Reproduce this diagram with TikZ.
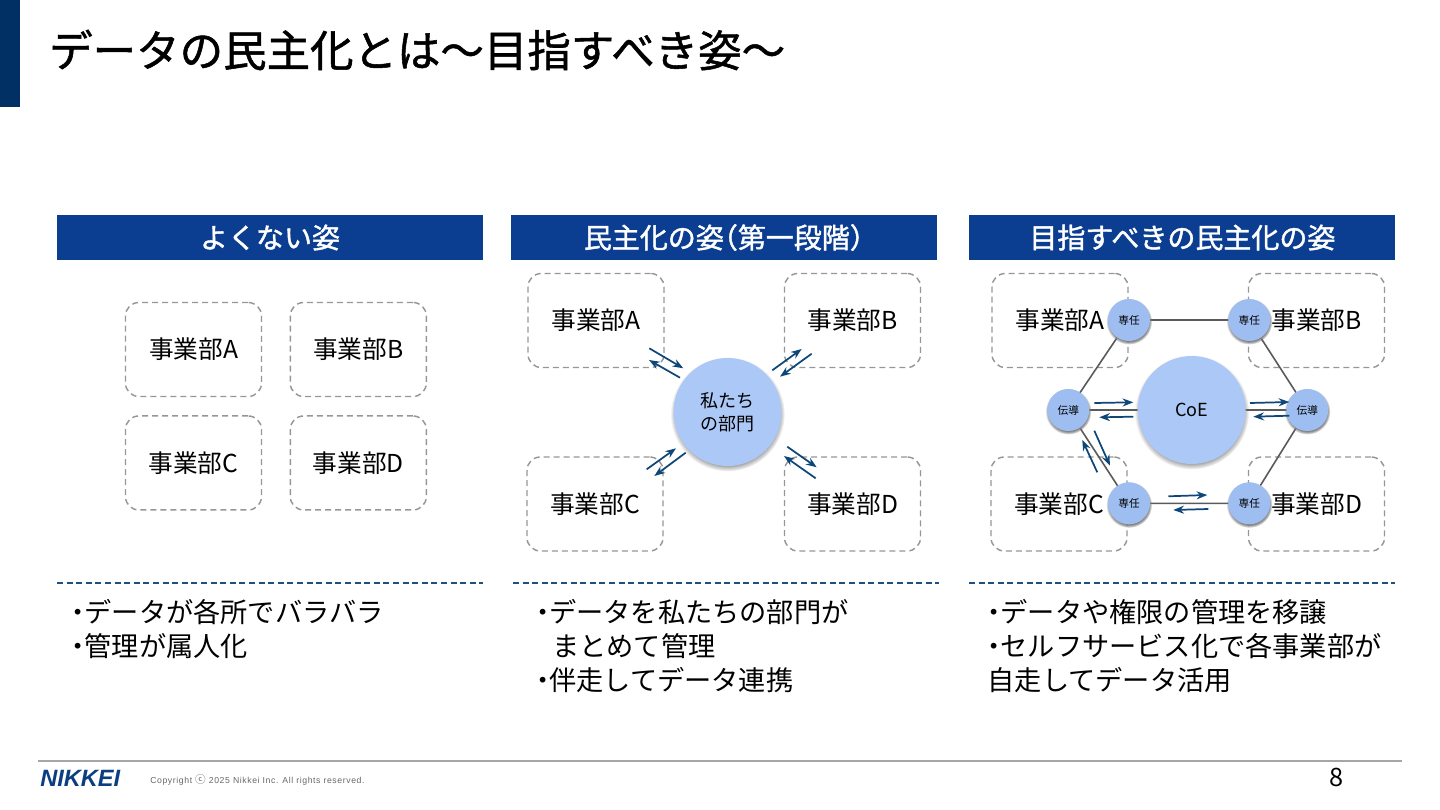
\documentclass[tikz,border=0pt]{standalone}
\usepackage{fontspec}
\usepackage{xcolor}
\usepackage{tikz}
\usetikzlibrary{arrows.meta, positioning, shadows}
\setmainfont{Noto Sans CJK JP}
\newfontfamily\titlefont[FakeBold=1.2]{Noto Sans CJK JP}
\newfontfamily\headfont[FakeBold=1.5]{Noto Sans CJK JP}
\newfontfamily\footfont{Liberation Sans}
\newfontfamily\copyfont[LetterSpace=7]{Liberation Sans}
\definecolor{navybar}{RGB}{11,61,145}
\definecolor{sidebar}{RGB}{0,48,100}
\definecolor{flowblue}{RGB}{14,70,120}
\definecolor{rulecolor}{RGB}{30,80,130}
\definecolor{dashgray}{RGB}{150,150,150}
\definecolor{linkgray}{RGB}{90,90,90}
\definecolor{hubblue}{RGB}{172,200,246}
\definecolor{relayblue}{RGB}{158,189,240}
\definecolor{logoblue}{RGB}{10,62,128}
\newcommand{\dotmark}{\makebox[9.75pt][c]{・}}
\tikzset{
  header/.style={rectangle, fill=navybar, text=white, minimum width=319.5pt, minimum height=33.75pt,
    inner sep=0pt, font=\fontsize{21}{25}\headfont},
  bizbox/.style={rectangle, draw=dashgray, dashed, line width=1.1pt, rounded corners=10pt,
    dash pattern=on 4.5pt off 3pt, minimum width=102pt, minimum height=70.5pt, inner sep=0pt,
    font=\fontsize{18.5}{22}\selectfont},
  hub/.style={circle, fill=hubblue, minimum size=81pt, inner sep=0pt,
    circular drop shadow={shadow xshift=0pt, shadow yshift=-1.5pt, shadow scale=1.06},
    align=center, font=\fontsize{13.5}{17.5}\selectfont},
  relay/.style={circle, fill=relayblue, minimum size=31.5pt, inner sep=0pt,
    circular drop shadow={shadow xshift=0pt, shadow yshift=-1pt, shadow scale=1.1},
    font=\fontsize{8}{9}\selectfont},
  flow/.style={-{Stealth[length=8pt, width=6pt]}, line width=1.3pt, color=flowblue},
  link/.style={line width=1.2pt, color=linkgray},
  rulenote/.style={dashed, dash pattern=on 4.5pt off 2.7pt, line width=0.8pt, color=rulecolor},
  note/.style={anchor=north west, inner sep=0pt, align=left, font=\fontsize{20.4}{25.5}\selectfont}
}
\begin{document}
\begin{tikzpicture}[x=0.75pt, y=-0.75pt]
  \useasboundingbox (0,0) rectangle (1440,810);
  \fill [sidebar] (0,0) rectangle (20,107);
  \node [anchor=west, inner sep=0pt, font=\fontsize{32.6}{38}\titlefont] (title) at (49,50) {データの民主化とは〜目指すべき姿〜};

  % column headers
  \node [header] (headbad) at (270,237.5) {よくない姿};
  \node [header, right=20.5pt of headbad] (headfirst) {民主化の姿\kern-10.5pt（第一段階）\kern-10.5pt};
  \node [header, right=24pt of headfirst] (headgoal) {目指すべきの民主化の姿};

  % left column
  \node [bizbox] (la) at (193.5,349.5) {事業部A};
  \node [bizbox, right=20.5pt of la] (lb) {事業部B};
  \node [bizbox, below=13.5pt of la] (lc) {事業部C};
  \node [bizbox, right=20.5pt of lc] (ld) {事業部D};

  % middle column
  \node [bizbox] (ma) at (596,320.5) {事業部A};
  \node [bizbox] (mb) at (852.5,320.5) {事業部B};
  \node [bizbox] (mc) at (595,504) {事業部C};
  \node [bizbox] (md) at (852.5,504) {事業部D};
  \node [hub] (team) at (727.5,412) {私たち\\の部門};
  \foreach \i/\xa/\ya/\xb/\yb in {
    1/649.3/348.3/683.3/368.3, 2/680/377.7/649/360,
    3/772.3/370.3/801.7/349, 4/811.7/353.7/780/376.7,
    5/646.7/469.3/676/448.3, 6/685.7/452.7/654.3/476,
    7/787.3/446.7/816.7/467.3, 8/815.7/478.3/784/456} {
    \coordinate (ms\i) at (\xa,\ya);
    \coordinate (me\i) at (\xb,\yb);
    \draw [flow] (ms\i) -- (me\i);
  }

  % right column
  \node [bizbox] (ra) at (1060,320.5) {事業部A};
  \node [bizbox] (rb) at (1316.5,320.5) {事業部B};
  \node [bizbox] (rc) at (1059,504) {事業部C};
  \node [bizbox] (rd) at (1316.5,504) {事業部D};
  \coordinate (ca) at (1129,320);
  \coordinate (cb) at (1249.3,320);
  \coordinate (cc) at (1129,503.3);
  \coordinate (cd) at (1249.3,503.3);
  \coordinate (cl) at (1068.3,410);
  \coordinate (cr) at (1307.3,410);
  \draw [link] (ca) -- (cb) -- (cr) -- (cd) -- (cc) -- (cl) -- cycle;
  \draw [link] (cl) -- (cr);
  \node [relay] (sa) at (ca) {専任};
  \node [relay] (sb) at (cb) {専任};
  \node [relay] (sc) at (cc) {専任};
  \node [relay] (sd) at (cd) {専任};
  \node [relay] (dl) at (cl) {伝導};
  \node [relay] (dr) at (cr) {伝導};
  \node [hub] (coe) at (1191.7,410) {CoE};
  \foreach \i/\xa/\ya/\xb/\yb in {
    1/1094.3/403/1133.3/402.3, 2/1133.3/416.7/1099.3/417.3,
    3/1250/403/1289.3/402, 4/1289.3/415.7/1253.3/416.7,
    5/1094.3/430.7/1110/465.7, 6/1097.3/472.3/1082.3/440,
    7/1168.3/496.3/1207.3/495, 8/1208.3/509/1173.3/510} {
    \coordinate (rs\i) at (\xa,\ya);
    \coordinate (re\i) at (\xb,\yb);
    \draw [flow] (rs\i) -- (re\i);
  }

  % notes
  \coordinate (ruleastart) at (57,583);
  \coordinate (ruleaend) at (483,583);
  \coordinate (rulebstart) at (513,583);
  \coordinate (rulebend) at (939,583);
  \coordinate (rulecstart) at (969,583);
  \coordinate (ruleend) at (1395,583);
  \draw [rulenote] (ruleastart) -- (ruleaend);
  \draw [rulenote] (rulebstart) -- (rulebend);
  \draw [rulenote] (rulecstart) -- (ruleend);
  \node [note] (notebad) at (71.5,599) {\dotmark データが各所でバラバラ\\\dotmark 管理が属人化};
  \node [note] (notefirst) at (536,599) {\dotmark データを私たちの部門が\\\hspace{12pt}まとめて管理\\\dotmark 伴走してデータ連携};
  \node [note] (notegoal) at (987.5,599) {\dotmark データや権限の管理を移譲\\\dotmark セルフサービス化で各事業部が\\自走してデータ活用};

  % footer
  \coordinate (footl) at (38,760.5);
  \coordinate (footr) at (1402,760.5);
  \draw [line width=1.5pt, color=black!35] (footl) -- (footr);
  \node [anchor=west, inner sep=0pt, text=logoblue, font=\fontsize{17.7}{20}\footfont\bfseries\itshape] (logo) at (40,778.5) {NIKKEI};
  \node [anchor=west, inner sep=0pt, text=black!60, font=\fontsize{6.5}{8}\copyfont] (copy) at (150,779.5) {Copyright {\fontsize{8}{8}\rmfamily ⓒ} 2025 Nikkei Inc. All rights reserved.};
  \node [inner sep=0pt, font=\fontsize{19}{22}\selectfont] (page) at (1336.5,777) {8};
\end{tikzpicture}
\end{document}
